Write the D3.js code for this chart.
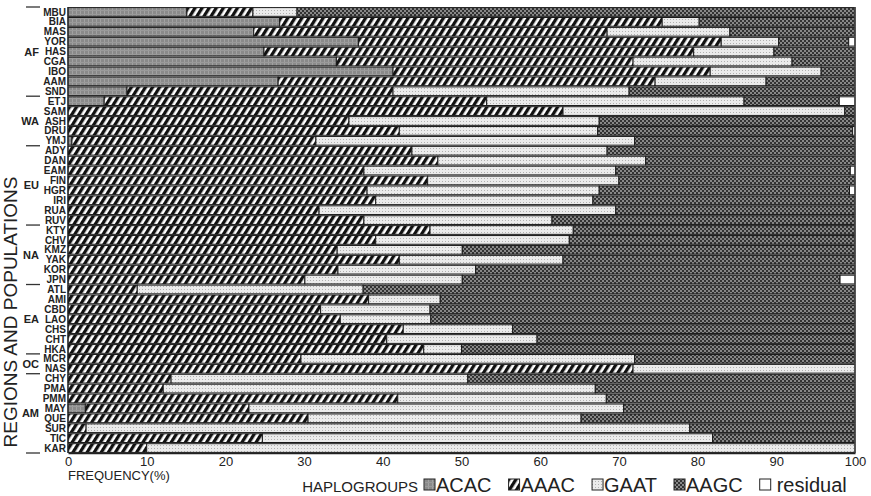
<!DOCTYPE html>
<html>
<head>
<meta charset="utf-8">
<script src="https://cdn.jsdelivr.net/npm/d3@7"></script>
<style>
body { margin: 0; background: #fff; }
text { font-family: "Liberation Sans", Arial, sans-serif; }
</style>
</head>
<body>
<script>
// populations, top to bottom
var populations = ['MBU','BIA','MAS','YOR','HAS','CGA','IBO','AAM','SND',
  'ETJ','SAM','ASH','DRU','YMJ',
  'ADY','DAN','EAM','FIN','HGR','IRI','RUA','RUV',
  'KTY','CHV','KMZ','YAK','KOR','JPN',
  'ATL','AMI','CBD','LAO','CHS','CHT','HKA',
  'MCR','NAS',
  'CHY','PMA','PMM','MAY','QUE','SUR','TIC','KAR'];
var regions = ['AF','WA','EU','NA','EA','OC','AM'];
var regionSizes = [9, 5, 8, 6, 7, 2, 8];
var haplogroups = ['ACAC','AAAC','GAAT','AAGC','residual'];
var xTicks = [0,10,20,30,40,50,60,70,80,90,100];

// frequencies (%) per haplogroup, same order as populations
var acac = [15.1,26.9,23.6,36.9,24.9,34.1,41.3,26.7,7.5,
  4.6,0,0,0,0.5,
  0,0,0,0,0,0,0,0,
  0,0,0,0,0,0,
  0,0,0,0,0,0,0,
  0,0,
  0,0,0,2.2,0,0,0,0];
var aaac = [8.4,48.6,44.9,46.1,54.6,37.7,40.3,47.9,33.8,
  48.6,62.9,35.7,42.1,31.0,
  43.7,47.0,37.6,45.7,38.0,39.1,31.9,37.6,
  46.0,39.1,34.2,42.1,34.3,30.1,
  8.8,38.2,32.1,34.6,42.6,40.5,45.2,
  29.6,71.8,
  13.1,12.1,41.9,20.8,30.5,2.3,24.7,10.0];
var gaat = [5.6,4.7,15.6,7.3,10.2,20.2,14.1,14.1,30.0,
  32.7,35.8,31.8,25.2,40.5,
  24.8,26.4,32.0,24.3,29.5,27.6,37.7,23.9,
  18.2,24.6,15.9,20.8,17.5,20.0,
  28.7,9.1,13.9,11.5,13.9,19.1,4.8,
  42.4,28.2,
  37.7,54.9,26.5,47.6,34.7,76.7,57.2,90.0];
var aagc = [70.9,19.8,15.9,8.9,10.3,8.0,4.3,11.3,28.7,
  12.1,1.3,32.5,32.4,28.0,
  31.5,26.6,29.8,30.0,31.8,33.3,30.4,38.5,
  35.8,36.3,49.9,37.1,48.2,48.0,
  62.5,52.7,54.0,53.9,43.5,40.4,50.0,
  28.0,0,
  49.2,33.0,31.6,29.4,34.8,21.0,18.1,0];
var residual = [0,0,0,0.8,0,0,0,0,0,
  2.0,0,0,0.3,0,
  0,0,0.6,0,0.7,0,0,0,
  0,0,0,0,0,1.9,
  0,0,0,0,0,0,0,
  0,0,
  0,0,0,0,0,0,0,0];

var table = populations.map(function(p, i){
  return {pop: p, ACAC: acac[i], AAAC: aaac[i], GAAT: gaat[i], AAGC: aagc[i], residual: residual[i]};
});

var w = 871, h = 496;
var plotLeft = 68, plotRight = 855, plotTop = 7, plotBottom = 453;

var svg = d3.select('body').append('svg')
  .attr('width', w)
  .attr('height', h);

// fill patterns
var defs = svg.append('defs');

var pAcac = defs.append('pattern').attr('id', 'p-ACAC')
  .attr('patternUnits', 'userSpaceOnUse').attr('width', 4).attr('height', 4);
pAcac.append('rect').attr('width', 4).attr('height', 4).attr('fill', '#8a8a8a');
pAcac.append('rect').attr('x', 0).attr('width', 1).attr('height', 4).attr('fill', '#a2a2a2');
pAcac.append('rect').attr('y', 2).attr('width', 4).attr('height', 1).attr('fill', '#9a9a9a');

var pAaac = defs.append('pattern').attr('id', 'p-AAAC')
  .attr('patternUnits', 'userSpaceOnUse').attr('width', 6).attr('height', 6)
  .attr('patternTransform', 'rotate(32)');
pAaac.append('rect').attr('width', 6).attr('height', 6).attr('fill', '#fff');
pAaac.append('rect').attr('width', 3.3).attr('height', 6).attr('fill', '#111');

var pGaat = defs.append('pattern').attr('id', 'p-GAAT')
  .attr('patternUnits', 'userSpaceOnUse').attr('width', 3).attr('height', 3);
pGaat.append('rect').attr('width', 3).attr('height', 3).attr('fill', '#ebebeb');
pGaat.append('rect').attr('x', 1).attr('y', 1).attr('width', 1).attr('height', 1).attr('fill', '#b0b0b0');

var pAagc = defs.append('pattern').attr('id', 'p-AAGC')
  .attr('patternUnits', 'userSpaceOnUse').attr('width', 4).attr('height', 4);
pAagc.append('rect').attr('width', 4).attr('height', 4).attr('fill', '#888');
pAagc.append('rect').attr('width', 2).attr('height', 2).attr('fill', '#333');
pAagc.append('rect').attr('x', 2).attr('y', 2).attr('width', 2).attr('height', 2).attr('fill', '#333');

var fills = {ACAC: 'url(#p-ACAC)', AAAC: 'url(#p-AAAC)', GAAT: 'url(#p-GAAT)', AAGC: 'url(#p-AAGC)', residual: '#fff'};

var xScale = d3.scaleLinear()
  .domain([0, 100])
  .range([plotLeft, plotRight]);

var yScale = d3.scaleBand()
  .domain(populations)
  .range([plotTop, plotBottom])
  .paddingInner(0.12)
  .paddingOuter(0.06);

var series = d3.stack().keys(haplogroups)(table);

svg.append('g')
  .selectAll('g')
  .data(series)
  .enter()
  .append('g')
  .attr('fill', function(d){ return fills[d.key]; })
  .selectAll('rect')
  .data(function(d){ return d.filter(function(s){ return s[1] - s[0] > 0; }); })
  .enter()
  .append('rect')
  .attr('x', function(d){ return xScale(d[0]); })
  .attr('y', function(d){ return yScale(d.data.pop); })
  .attr('width', function(d){ return xScale(d[1]) - xScale(d[0]); })
  .attr('height', yScale.bandwidth())
  .attr('stroke', '#1a1a1a')
  .attr('stroke-width', 1);

// frame lines
svg.append('line').attr('x1', plotLeft).attr('x2', plotLeft).attr('y1', plotTop).attr('y2', plotBottom)
  .attr('stroke', '#222').attr('stroke-width', 1.2);
svg.append('line').attr('x1', plotRight).attr('x2', plotRight).attr('y1', plotTop).attr('y2', plotBottom)
  .attr('stroke', '#444').attr('stroke-width', 1.5);

// x axis
var xAxis = d3.axisBottom(xScale).tickValues(xTicks).tickSize(0).tickPadding(4);
var gx = svg.append('g')
  .attr('transform', 'translate(0,' + plotBottom + ')')
  .call(xAxis);
gx.select('.domain').attr('stroke', '#222').attr('stroke-width', 1.5);
gx.selectAll('text')
  .attr('font-family', '"Liberation Sans", Arial, sans-serif')
  .attr('font-size', '13px')
  .attr('fill', '#222');

svg.append('text')
  .attr('x', plotLeft)
  .attr('y', 480)
  .attr('font-size', '13px')
  .attr('fill', '#222')
  .text('FREQUENCY(%)');

// population labels
svg.append('g')
  .selectAll('text')
  .data(populations)
  .enter()
  .append('text')
  .attr('x', plotLeft - 2)
  .attr('y', function(d){ return yScale(d) + yScale.bandwidth() / 2; })
  .attr('dy', '0.36em')
  .attr('text-anchor', 'end')
  .attr('font-size', '10px')
  .attr('font-weight', 'bold')
  .attr('fill', '#222')
  .text(function(d){ return d; });

// region labels and separators
var step = yScale.step();
var starts = [];
var acc = 0;
regionSizes.forEach(function(n){ starts.push(acc); acc += n; });
var rowTop = function(i){ return plotTop + yScale.paddingOuter() * step + i * step - step * yScale.paddingInner() / 2; };

svg.append('g')
  .selectAll('text')
  .data(regions)
  .enter()
  .append('text')
  .attr('x', 39)
  .attr('y', function(d, i){ return (rowTop(starts[i]) + rowTop(starts[i] + regionSizes[i])) / 2; })
  .attr('dy', '0.36em')
  .attr('text-anchor', 'end')
  .attr('font-size', '11px')
  .attr('font-weight', 'bold')
  .attr('fill', '#222')
  .text(function(d){ return d; });

var bounds = starts.slice(0);
bounds.push(populations.length);
svg.append('g')
  .selectAll('line')
  .data(bounds)
  .enter()
  .append('line')
  .attr('x1', 26)
  .attr('x2', 40)
  .attr('y1', function(d){ return rowTop(d); })
  .attr('y2', function(d){ return rowTop(d); })
  .attr('stroke', '#333')
  .attr('stroke-width', 1.3);

// y title
svg.append('text')
  .attr('transform', 'translate(17,' + 312 + ') rotate(-90)')
  .attr('text-anchor', 'middle')
  .attr('font-size', '19px')
  .attr('fill', '#222')
  .text('REGIONS AND POPULATIONS');

// legend
var legend = svg.append('g');
legend.append('text')
  .attr('x', 418)
  .attr('y', 492)
  .attr('text-anchor', 'end')
  .attr('font-size', '15px')
  .attr('fill', '#222')
  .text('HAPLOGROUPS');

var lx = 424;
haplogroups.forEach(function(k){
  legend.append('rect')
    .attr('x', lx)
    .attr('y', 479)
    .attr('width', 11)
    .attr('height', 11)
    .attr('fill', fills[k])
    .attr('stroke', '#222')
    .attr('stroke-width', 1);
  var gap = (k === 'residual' ? 17 : 12);
  var t = legend.append('text')
    .attr('x', lx + gap)
    .attr('y', 492)
    .attr('font-size', '20px')
    .attr('fill', '#222')
    .text(k);
  lx += gap + t.node().getComputedTextLength() + 17;
});
</script>
</body>
</html>
